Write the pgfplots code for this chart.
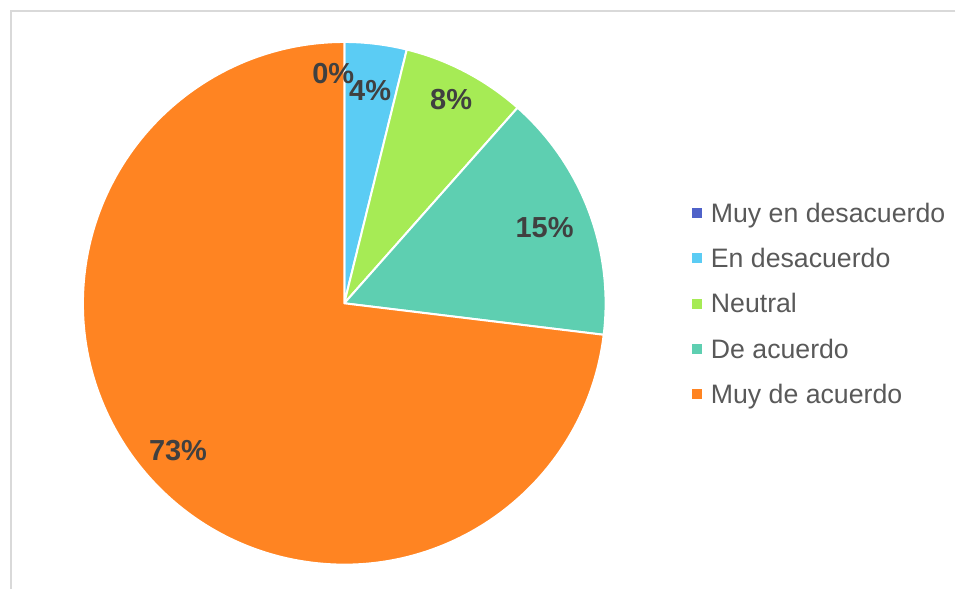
\documentclass[border=0pt]{standalone}
\usepackage{pgfplots}
\usepackage{pgfplotstable}
\pgfplotsset{compat=1.18}
\usepackage{fontspec}
\setmainfont{Liberation Sans}
\definecolor{slice0}{HTML}{4F62C9}
\definecolor{slice1}{HTML}{5BCCF4}
\definecolor{slice2}{HTML}{A6EB55}
\definecolor{slice3}{HTML}{5ECFB1}
\definecolor{slice4}{HTML}{FF8422}
\definecolor{lbl}{HTML}{404040}
\definecolor{legtxt}{HTML}{595959}
\definecolor{framec}{HTML}{D9D9D9}

\pgfplotstableread[col sep=comma]{
name,value,lr,dx
Muy en desacuerdo,0,0.88,-11
En desacuerdo,1,0.82,0
Neutral,2,0.88,0
De acuerdo,4,0.82,0
Muy de acuerdo,19,0.85,0
}\piedata

\begin{document}
\begin{tikzpicture}
\def\total{0}
\pgfplotsforeachungrouped \i in {0,...,4}{%
  \pgfplotstablegetelem{\i}{value}\of\piedata
  \pgfmathsetmacro\total{\total+\pgfplotsretval}%
}
\def\cum{0}
\pgfplotsforeachungrouped \i in {0,...,4}{%
  \pgfplotstablegetelem{\i}{value}\of\piedata
  \let\val\pgfplotsretval
  \pgfmathsetmacro\sa{90-360*\cum/\total}%
  \pgfmathsetmacro\cum{\cum+\val}%
  \pgfmathsetmacro\ea{90-360*\cum/\total}%
  \pgfmathsetmacro\ma{(\sa+\ea)/2}%
  \pgfmathtruncatemacro\pc{round(100*\val/\total)}%
  \expandafter\xdef\csname sa\i\endcsname{\sa}%
  \expandafter\xdef\csname ea\i\endcsname{\ea}%
  \expandafter\xdef\csname ma\i\endcsname{\ma}%
  \expandafter\xdef\csname pc\i\endcsname{\pc}%
  \pgfplotstablegetelem{\i}{lr}\of\piedata
  \pgfmathsetmacro\lr{\pgfplotsretval*261.5}%
  \expandafter\xdef\csname lr\i\endcsname{\lr}%
  \pgfplotstablegetelem{\i}{dx}\of\piedata
  \expandafter\xdef\csname dx\i\endcsname{\pgfplotsretval}%
  \pgfplotstablegetelem{\i}{name}\of\piedata
  \expandafter\xdef\csname nm\i\endcsname{\pgfplotsretval}%
}
\begin{axis}[
  scale only axis, width=956bp, height=589bp,
  xmin=0, xmax=956, ymin=0, ymax=589,
  hide axis, clip=false,
  legend cell align=left,
  legend image code/.code={\fill[#1] (-4.5bp,-4.5bp) rectangle (4.5bp,4.5bp);},
  legend style={at={(axis cs:692,385.5)}, anchor=north west, draw=none, fill=none,
    inner sep=0pt, outer sep=0pt, row sep=26.3bp, column sep=10bp,
    nodes={inner sep=0pt, text height=19bp, text depth=0pt},
    font=\fontsize{26.7bp}{30bp}\selectfont, text=legtxt},
]
\path (axis cs:0,0) rectangle (axis cs:956,589);
\draw[framec, line width=1.3bp] (axis cs:956,578) -- (axis cs:11,578) -- (axis cs:11,0);
\pgfplotsinvokeforeach{0,...,4}{
  \fill[slice#1, draw=white, line width=2bp, line join=round]
    (axis cs:344.5,285.5) -- ++(\csname sa#1\endcsname:261.5bp)
    arc[start angle=\csname sa#1\endcsname, end angle=\csname ea#1\endcsname, radius=261.5bp] -- cycle;
  \addlegendimage{slice#1}
  \addlegendentry{\csname nm#1\endcsname}
}
\pgfplotsinvokeforeach{0,...,4}{
  \path (axis cs:344.5,285.5) ++(\csname ma#1\endcsname:\csname lr#1\endcsname bp)
    node[xshift=\csname dx#1\endcsname bp, inner sep=0pt, text=lbl,
      font=\fontsize{29bp}{31bp}\selectfont\bfseries] {\csname pc#1\endcsname\%};
}
\end{axis}
\end{tikzpicture}
\end{document}
